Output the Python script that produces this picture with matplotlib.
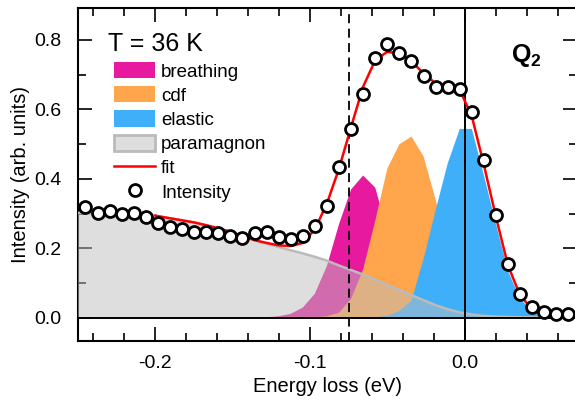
import matplotlib
matplotlib.use("Agg")
import matplotlib.pyplot as plt
from matplotlib.patches import Patch
from matplotlib.lines import Line2D
from matplotlib.ticker import MultipleLocator

plt.rcParams['font.family'] = ['Liberation Sans', 'DejaVu Sans']
plt.rcParams['axes.unicode_minus'] = False
plt.rcParams['mathtext.fontset'] = 'custom'
plt.rcParams['mathtext.rm'] = 'Liberation Sans'
plt.rcParams['mathtext.bf'] = 'Liberation Sans:bold'

# measured spectrum
energy = [-0.2452, -0.2374, -0.2296, -0.2218, -0.2140, -0.2062, -0.1984, -0.1906,
          -0.1828, -0.1750, -0.1672, -0.1594, -0.1516, -0.1438, -0.1360, -0.1282,
          -0.1204, -0.1126, -0.1048, -0.0970, -0.0892, -0.0814, -0.0736, -0.0658,
          -0.0580, -0.0502, -0.0424, -0.0346, -0.0268, -0.0190, -0.0112, -0.0034,
          0.0044, 0.0122, 0.0200, 0.0278, 0.0356, 0.0434, 0.0512, 0.0590, 0.0668]
intensity = [0.320, 0.303, 0.309, 0.299, 0.301, 0.292, 0.272, 0.263, 0.255, 0.248,
             0.248, 0.245, 0.236, 0.229, 0.244, 0.247, 0.232, 0.226, 0.236, 0.265,
             0.323, 0.434, 0.543, 0.645, 0.749, 0.788, 0.762, 0.740, 0.696, 0.664,
             0.664, 0.658, 0.593, 0.455, 0.296, 0.155, 0.068, 0.033, 0.016, 0.011,
             0.011]

# components on the model grid
energy_model = [-0.2530] + energy + [0.0746]
breathing = [0]*16 + [0.002, 0.005, 0.012, 0.030, 0.070, 0.150, 0.270, 0.370,
                      0.410, 0.375, 0.250, 0.140, 0.065, 0.025, 0.008, 0.002] + [0]*11
cdf = [0]*20 + [0.002, 0.005, 0.015, 0.055, 0.140, 0.280, 0.430, 0.500,
                0.522, 0.465, 0.340, 0.200, 0.090, 0.030, 0.010, 0.003] + [0]*7
elastic = [0]*25 + [0.002, 0.006, 0.020, 0.050, 0.170, 0.310, 0.445, 0.544,
                    0.544, 0.410, 0.270, 0.135, 0.055, 0.020, 0.007, 0.002, 0.001] + [0]
paramagnon = [0.303, 0.302, 0.301, 0.300, 0.299, 0.298, 0.296, 0.293, 0.287, 0.281,
              0.275, 0.267, 0.258, 0.248, 0.236, 0.224, 0.214, 0.204, 0.195, 0.186,
              0.176, 0.165, 0.151, 0.138, 0.125, 0.110, 0.095, 0.081, 0.066, 0.051,
              0.037, 0.025, 0.016, 0.010, 0.006, 0.004, 0.003, 0.002, 0.002, 0.001,
              0.001, 0.001, 0.001]

# fit curve (fit window starts at -0.2 eV)
energy_fit = [-0.2000] + energy[6:] + [0.0746]
fit = [0.295, 0.293, 0.287, 0.281, 0.275, 0.267, 0.258, 0.248, 0.236, 0.224,
       0.216, 0.209, 0.207, 0.216, 0.255, 0.330, 0.430, 0.550, 0.666, 0.742,
       0.766, 0.760, 0.738, 0.704, 0.675, 0.661, 0.656, 0.580, 0.440, 0.290,
       0.150, 0.065, 0.025, 0.010, 0.005, 0.003, 0.002]

c_breath = '#e6199f'
c_cdf = '#ffa54b'
c_elastic = '#40affa'
c_para = (0.745, 0.745, 0.745, 0.5)

fig = plt.figure(figsize=(5.75, 4.0), dpi=100)
ax = fig.add_axes([78/575, 59/400, 499/575, 333/400])

h_b = ax.fill_between(energy_model, 0, breathing, facecolor=c_breath, edgecolor='none', zorder=1)
h_c = ax.fill_between(energy_model, 0, cdf, facecolor=c_cdf, edgecolor='none', zorder=2)
h_e = ax.fill_between(energy_model, 0, elastic, facecolor=c_elastic, edgecolor='none', zorder=3)
ax.fill_between(energy_model, 0, paramagnon, facecolor=c_para, edgecolor='none', zorder=4)
ax.plot(energy_model, paramagnon, color='#bbbbbb', lw=1.8, zorder=5)

ax.axhline(0, color='black', lw=1.4, zorder=6)
ax.axvline(0, color='black', lw=1.4, zorder=6)
ax.axvline(-0.075, color='black', lw=1.3, dashes=(5, 3), zorder=6)

ax.plot(energy_fit, fit, color='red', lw=1.8, zorder=7)
ax.plot(energy, intensity, 'o', ms=8.6, mfc='white', mec='black', mew=2.0, zorder=8)

ax.set_xlim(-0.25, 0.0723)
ax.set_ylim(-0.0662, 0.892)
ax.xaxis.set_major_locator(MultipleLocator(0.1))
ax.xaxis.set_minor_locator(MultipleLocator(0.02))
ax.yaxis.set_major_locator(MultipleLocator(0.2))
ax.yaxis.set_minor_locator(MultipleLocator(0.1))
ax.tick_params(which='both', direction='in', top=True, right=True, width=1.2,
               labelsize=14, pad=10)
ax.tick_params(axis='y', which='both', pad=12)
ax.tick_params(which='major', length=10)
ax.tick_params(which='minor', length=5.5)
for s in ax.spines.values():
    s.set_linewidth(1.5)

ax.set_xlabel('Energy loss (eV)', fontsize=14.5, labelpad=4)
ax.set_ylabel('Intensity (arb. units)', fontsize=14.5, labelpad=3)

ax.text(0.06, 0.872, 'T = 36 K', transform=ax.transAxes, fontsize=18, va='baseline')
ax.text(0.868, 0.838, r'$\mathbf{Q_2}$', transform=ax.transAxes, fontsize=18, va='baseline')

handles = [h_b, h_c, h_e,
           Patch(facecolor=c_para, edgecolor='#bbbbbb', linewidth=2),
           Line2D([], [], color='red', lw=1.8),
           Line2D([], [], ls='none', marker='o', ms=8.6, mfc='white', mec='black', mew=2.0)]
labels = ['breathing', 'cdf', 'elastic', 'paramagnon', 'fit', 'Intensity']
ax.legend(handles, labels, loc='upper left', bbox_to_anchor=(0.072, 0.838),
          frameon=False, fontsize=13.5, handlelength=2.2, handleheight=0.96,
          handletextpad=0.3, labelspacing=0.3, borderpad=0, borderaxespad=0)

fig.savefig('out.png', dpi=100)
